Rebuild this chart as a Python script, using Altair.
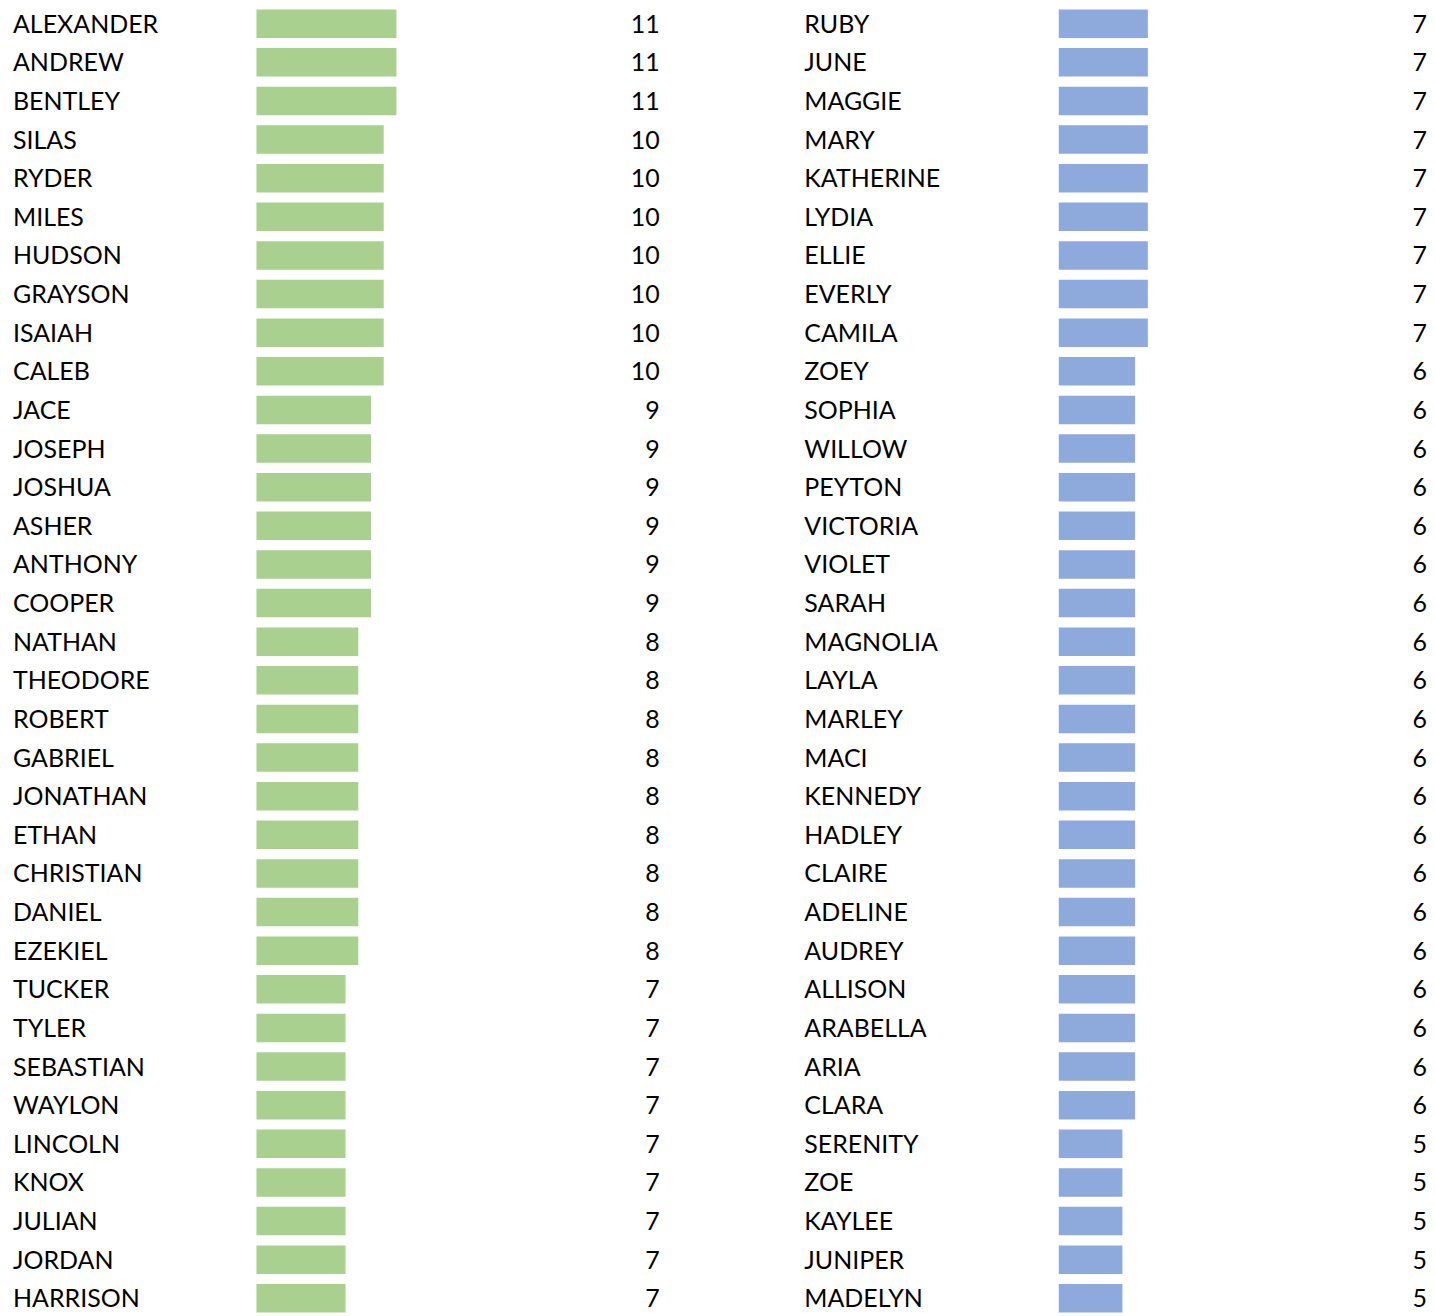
import altair as alt
import pandas as pd

boys = ["ALEXANDER", "ANDREW", "BENTLEY", "SILAS", "RYDER", "MILES", "HUDSON",
        "GRAYSON", "ISAIAH", "CALEB", "JACE", "JOSEPH", "JOSHUA", "ASHER",
        "ANTHONY", "COOPER", "NATHAN", "THEODORE", "ROBERT", "GABRIEL",
        "JONATHAN", "ETHAN", "CHRISTIAN", "DANIEL", "EZEKIEL", "TUCKER",
        "TYLER", "SEBASTIAN", "WAYLON", "LINCOLN", "KNOX", "JULIAN", "JORDAN",
        "HARRISON"]
boy_counts = [11, 11, 11, 10, 10, 10, 10, 10, 10, 10, 9, 9, 9, 9, 9, 9,
              8, 8, 8, 8, 8, 8, 8, 8, 8, 7, 7, 7, 7, 7, 7, 7, 7, 7]

girls = ["RUBY", "JUNE", "MAGGIE", "MARY", "KATHERINE", "LYDIA", "ELLIE",
         "EVERLY", "CAMILA", "ZOEY", "SOPHIA", "WILLOW", "PEYTON", "VICTORIA",
         "VIOLET", "SARAH", "MAGNOLIA", "LAYLA", "MARLEY", "MACI", "KENNEDY",
         "HADLEY", "CLAIRE", "ADELINE", "AUDREY", "ALLISON", "ARABELLA", "ARIA",
         "CLARA", "SERENITY", "ZOE", "KAYLEE", "JUNIPER", "MADELYN"]
girl_counts = [7, 7, 7, 7, 7, 7, 7, 7, 7, 6, 6, 6, 6, 6, 6, 6, 6, 6, 6, 6,
               6, 6, 6, 6, 6, 6, 6, 6, 6, 5, 5, 5, 5, 5]

FONT = "Lato"
FS = 25
H = 1306
PX_PER_UNIT = 12.75
DY = 9


def column(names, counts, color, name_w, bar_w, value_x):
    df = pd.DataFrame({"name": names, "count": counts})
    y = alt.Y("name:N", sort=None, axis=None,
              scale=alt.Scale(type="band", paddingInner=0.26, paddingOuter=0))
    label = alt.Chart(df).mark_text(
        align="left", baseline="alphabetic", dy=DY, font=FONT, fontSize=FS,
        color="#000000"
    ).encode(x=alt.value(0), y=y, text="name:N").properties(width=name_w, height=H)

    base = alt.Chart(df)
    bars = base.mark_bar(color=color, cornerRadius=0).encode(
        x=alt.X("count:Q", axis=None,
                scale=alt.Scale(domain=[0, bar_w / PX_PER_UNIT], nice=False, zero=True)),
        y=y,
    )
    vals = base.mark_text(
        align="right", baseline="alphabetic", dy=DY, font=FONT, fontSize=FS,
        color="#000000"
    ).encode(x=alt.value(value_x), y=y, text="count:Q")
    barpanel = alt.layer(bars, vals).properties(width=bar_w, height=H)
    return label, barpanel


l1, b1 = column(boys, boy_counts, "#A9D08E", 244, 549, 404)
l2, b2 = column(girls, girl_counts, "#8EA9DB", 255, 369, 369)

chart = alt.hconcat(l1, b1, l2, b2, spacing=0).properties(
    padding={"left": 5, "top": 0, "right": 0, "bottom": 0}
).configure_view(stroke=None).configure_concat(spacing=0)

chart.save("out.html", embed_options={"renderer": "svg", "actions": False})
